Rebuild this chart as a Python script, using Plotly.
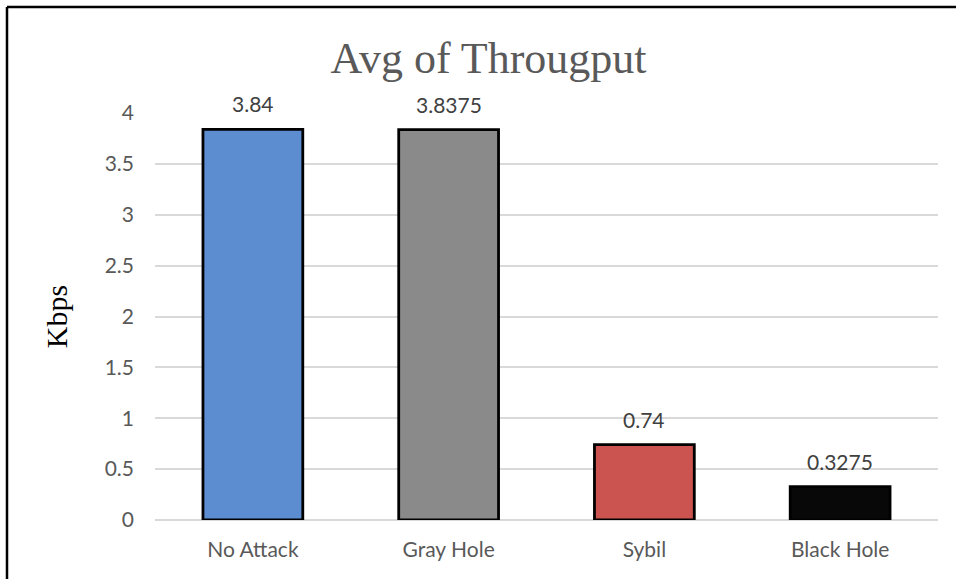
import plotly.graph_objects as go

# Average throughput per attack scenario (Kbps)
scenarios = ["No Attack", "Gray Hole", "Sybil", "Black Hole"]
throughput = [3.84, 3.8375, 0.74, 0.3275]
bar_colors = ["#5d8dd1", "#8a8a8a", "#cc5450", "#080808"]
y_ticks = [0, 0.5, 1, 1.5, 2, 2.5, 3, 3.5, 4]

label_font = dict(family="Lato, Open Sans, sans-serif", size=21, color="#404040")
tick_font = dict(family="Lato, Open Sans, sans-serif", size=21, color="#595959")

fig = go.Figure(
    go.Bar(
        x=scenarios,
        y=throughput,
        marker=dict(color=bar_colors, line=dict(color="#000000", width=2.8)),
        width=0.51,
        hoverinfo="x+y",
    )
)

# value labels above each bar
for name, val in zip(scenarios, throughput):
    fig.add_annotation(
        x=name, y=val, text=str(val), showarrow=False,
        xanchor="center", yanchor="bottom", yshift=11,
        font=label_font,
    )

fig.update_layout(
    width=956,
    height=579,
    paper_bgcolor="white",
    plot_bgcolor="white",
    margin=dict(l=155, r=18, t=113, b=59),
    showlegend=False,
    title=dict(
        text="Avg of Througput",
        x=0.511,
        xanchor="center",
        y=0.9,
        yanchor="middle",
        font=dict(family="Liberation Serif, serif", size=44, color="#595959"),
    ),
    xaxis=dict(
        showgrid=False,
        showline=False,
        ticks="",
        ticklabelstandoff=15,
        tickfont=tick_font,
    ),
    yaxis=dict(
        range=[0, 4],
        tickvals=y_ticks,
        ticktext=[f"{t:g}" for t in y_ticks],
        showgrid=True,
        gridcolor="#d9d9d9",
        gridwidth=1.5,
        zeroline=True,
        zerolinecolor="#d9d9d9",
        zerolinewidth=1.5,
        showline=False,
        ticks="",
        ticklabelstandoff=20,
        tickfont=tick_font,
        title=dict(
            text="Kbps",
            standoff=28,
            font=dict(family="Liberation Serif, serif", size=30, color="#000000"),
        ),
    ),
    shapes=[
        # frame around the chart area
        dict(
            type="line", xref="paper", yref="paper",
            x0=-148 / 783, x1=801 / 783, y0=(579 - 59 - 7) / 407, y1=(579 - 59 - 7) / 407,
            line=dict(color="#000000", width=2.5),
        ),
        dict(
            type="line", xref="paper", yref="paper",
            x0=-148 / 783, x1=-148 / 783, y0=(579 - 59 - 7) / 407, y1=-59 / 407,
            line=dict(color="#000000", width=2.5),
        ),
    ],
)

fig.write_html("out.html")
